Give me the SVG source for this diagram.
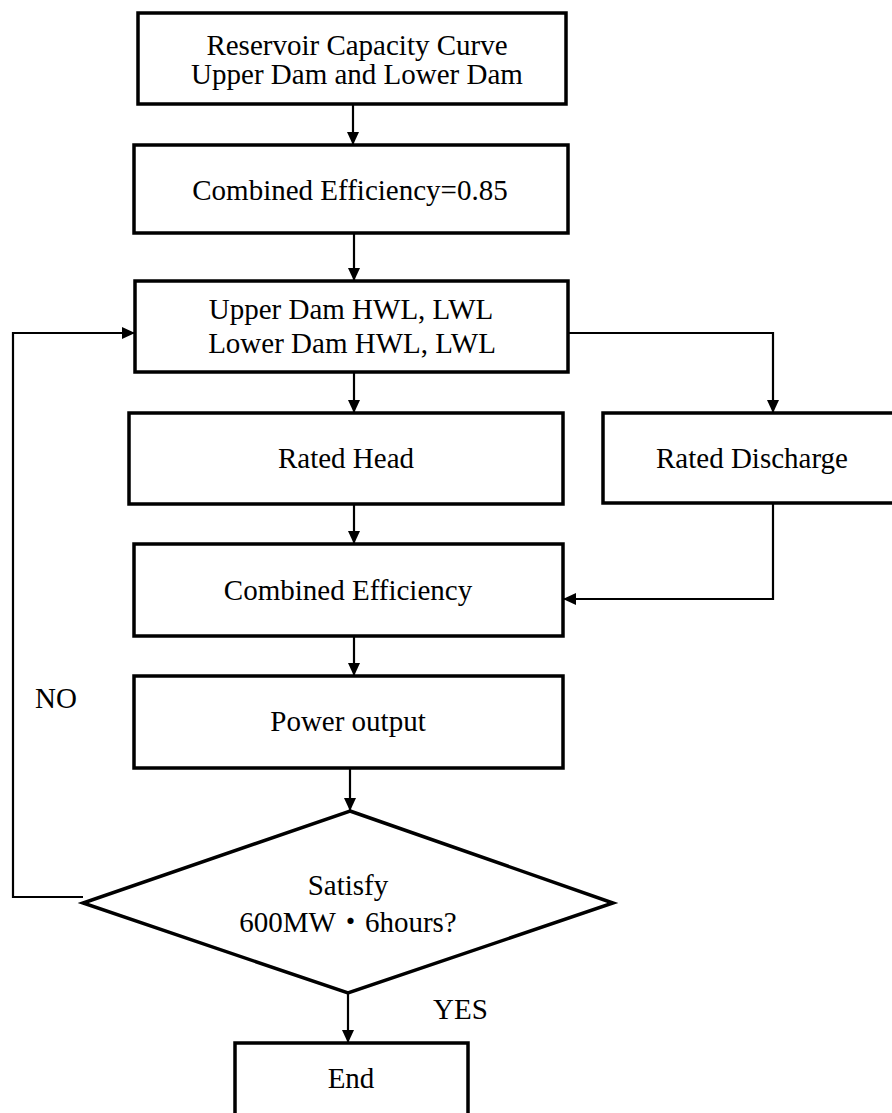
<svg xmlns="http://www.w3.org/2000/svg" width="892" height="1113" viewBox="0 0 892 1113">
  <style>
    .box { fill: #fff; stroke: #000; stroke-width: 3.5; }
    .link { fill: none; stroke: #000; stroke-width: 2.2; }
    .lbl { font-family: "Liberation Serif", "Noto Sans CJK JP", serif; font-size: 29px; fill: #000; text-anchor: middle; }
    .tag { font-family: "Liberation Serif", serif; font-size: 29px; fill: #000; }
  </style>
  <defs>
    <marker id="arrow" viewBox="0 0 13 12" refX="13" refY="6" markerWidth="13" markerHeight="12" markerUnits="userSpaceOnUse" orient="auto">
      <path d="M0,0 L13,6 L0,12 z" fill="#000"/>
    </marker>
  </defs>
  <rect width="892" height="1113" fill="#fff"/>

  <g id="connectors">
    <path class="link" marker-end="url(#arrow)" d="M353,104 V145"/>
    <path class="link" marker-end="url(#arrow)" d="M354,233 V281"/>
    <path class="link" marker-end="url(#arrow)" d="M354,372 V413"/>
    <path class="link" marker-end="url(#arrow)" d="M568,333 H773 V413"/>
    <path class="link" marker-end="url(#arrow)" d="M354,504 V544"/>
    <path class="link" marker-end="url(#arrow)" d="M773,503 V599 H563"/>
    <path class="link" marker-end="url(#arrow)" d="M354,636 V676"/>
    <path class="link" marker-end="url(#arrow)" d="M350,768 V811"/>
    <path class="link" marker-end="url(#arrow)" d="M348,993 V1043"/>
    <path class="link" marker-end="url(#arrow)" d="M83,897 H13 V333 H135"/>
    <text class="tag" x="35" y="708">NO</text>
    <text class="tag" x="433" y="1019">YES</text>
  </g>

  <g id="capacity-curve">
    <rect class="box" x="138" y="13" width="428" height="91"/>
    <text class="lbl" x="357" y="55">Reservoir Capacity Curve</text>
    <text class="lbl" x="357" y="84">Upper Dam and Lower Dam</text>
  </g>

  <g id="initial-efficiency">
    <rect class="box" x="134" y="145" width="434" height="88"/>
    <text class="lbl" x="350" y="200">Combined Efficiency=0.85</text>
  </g>

  <g id="water-levels">
    <rect class="box" x="135" y="281" width="433" height="91"/>
    <text class="lbl" x="351" y="319">Upper Dam HWL, LWL</text>
    <text class="lbl" x="352" y="353">Lower Dam HWL, LWL</text>
  </g>

  <g id="rated-head">
    <rect class="box" x="129" y="413" width="434" height="91"/>
    <text class="lbl" x="346" y="468">Rated Head</text>
  </g>

  <g id="rated-discharge">
    <rect class="box" x="603" y="413" width="300" height="90"/>
    <text class="lbl" x="752" y="468">Rated Discharge</text>
  </g>

  <g id="combined-efficiency">
    <rect class="box" x="134" y="544" width="429" height="92"/>
    <text class="lbl" x="348" y="600">Combined Efficiency</text>
  </g>

  <g id="power-output">
    <rect class="box" x="134" y="676" width="429" height="92"/>
    <text class="lbl" x="348" y="731">Power output</text>
  </g>

  <g id="check">
    <polygon class="box" points="350,811 613,903 348,993 83,903"/>
    <text class="lbl" x="348" y="895">Satisfy</text>
    <text class="lbl" x="348" y="932">600MW・6hours?</text>
  </g>

  <g id="end">
    <rect class="box" x="235" y="1043" width="233" height="90"/>
    <text class="lbl" x="351" y="1088">End</text>
  </g>
</svg>
